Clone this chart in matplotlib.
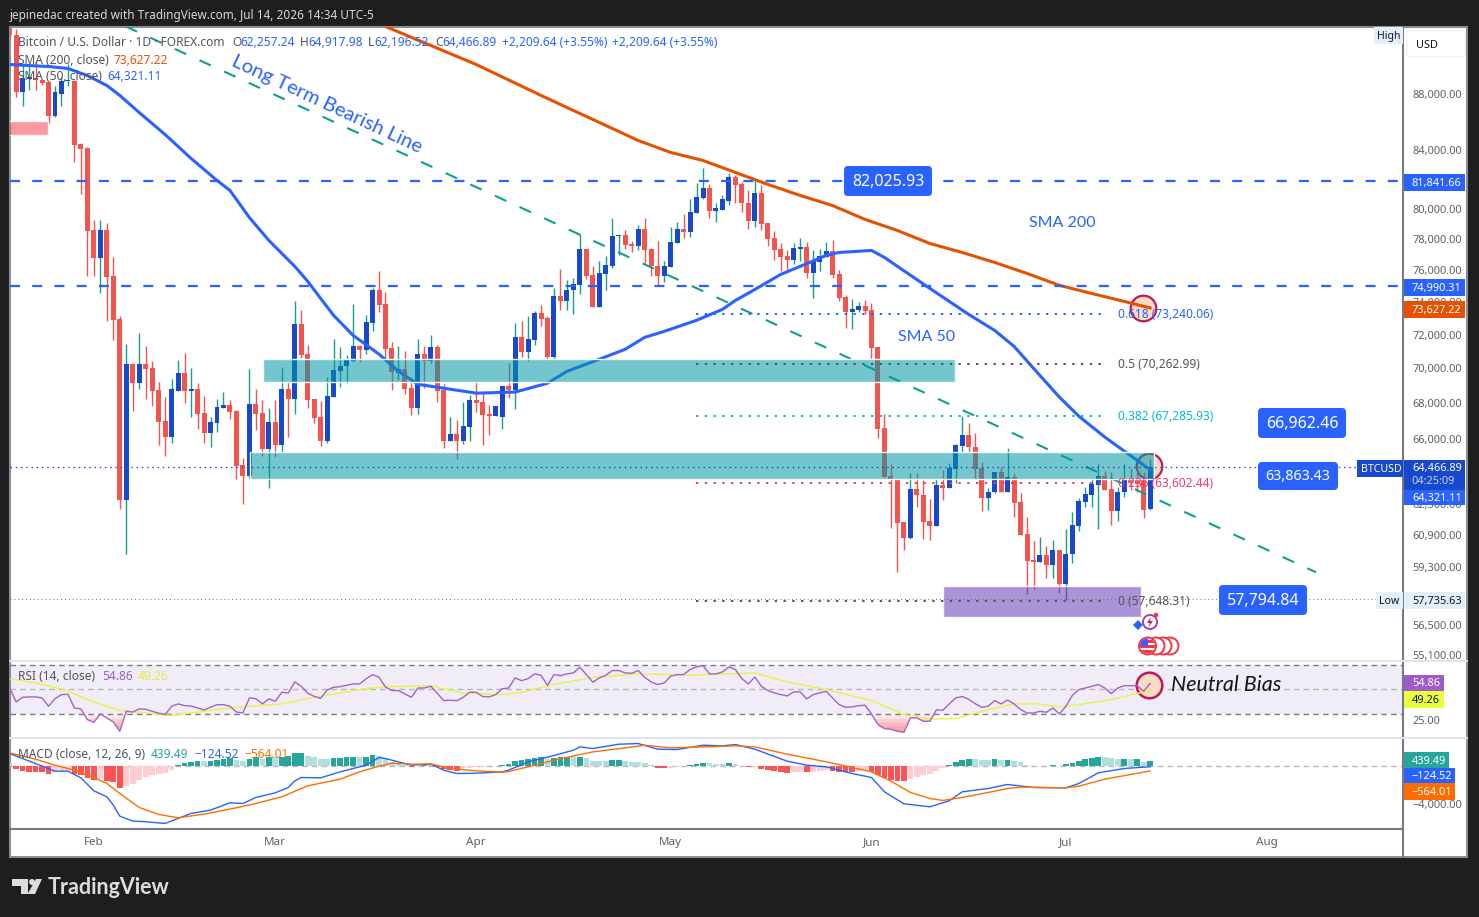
import numpy as np
import matplotlib
matplotlib.use("Agg")
import matplotlib.pyplot as plt
from matplotlib.colors import to_rgba
from matplotlib.patches import Rectangle, FancyBboxPatch, Circle, Polygon
from matplotlib.ticker import NullLocator

plt.rcParams["font.family"] = ["Noto Sans", "DejaVu Sans"]

# x axis is day of 2026, Jan 1 = 0. candles run daily from day 18 to day 194
first_day = 18
month_days = [31, 59, 90, 120, 151, 181, 212]
month_labels = ["Feb", "Mar", "Apr", "May", "Jun", "Jul", "Aug"]

opens = [93000, 92445, 88145, 89180, 89255, 89105, 88955, 86400, 88070, 89030, 89030, 84400, 84120, 78550, 76740, 78550,
         75590, 72930, 62710, 70245, 69140, 70245, 70010, 68740, 66985, 66095, 68715, 69715, 68685, 68800, 67430, 66315,
         66875, 67715, 67885, 67545, 64570, 63975, 67940, 67430, 65435, 66930, 65655, 68800, 68230, 72630, 70835, 68230,
         67210, 65875, 68340, 69830, 70125, 70420, 71305, 71070, 72690, 74770, 73845, 71185, 69715, 69950, 68855, 67715,
         70835, 70420, 71245, 68740, 65875, 66260, 65875, 66645, 68170, 68060, 67375, 67265, 67210, 68970, 68740, 71840,
         70950, 71660, 73300, 72990, 70660, 74335, 74030, 74710, 75030, 77315, 75655, 73660, 75720, 76230, 78160, 78225,
         77640, 77510, 78615, 77315, 76230, 75590, 76165, 77705, 78615, 78420, 79675, 80740, 81355, 79870, 79935, 80540,
         82105, 81630, 80405, 79145, 81015, 79010, 78030, 77315, 76865, 76610, 77315, 77445, 75780, 76485, 76800, 77185,
         75720, 74275, 73360, 73480, 73725, 73480, 71245, 66590, 63975, 63760, 61565, 60750, 63285, 62970, 61620, 61365,
         63495, 63335, 64355, 65600, 66205, 65545, 64410, 62815, 63125, 64190, 63125, 63920, 62605, 60955, 59640, 59540,
         59890, 59395, 60140, 58465, 59940, 61365, 62605, 62970, 63495, 63975, 63285, 62140, 63125, 63760, 63760, 63760,
         62257.24]
highs = [93060, 92980, 90305, 90155, 90530, 89105, 89030, 88660, 89330, 90305, 89100, 84470, 84200, 79210, 79210, 79010,
         76800, 73115, 71420, 70300, 72080, 71305, 70420, 69195, 68340, 69370, 70480, 70895, 70010, 69140, 68400, 67210,
         68230, 68625, 68170, 67600, 64950, 69950, 68800, 68170, 67715, 68170, 70065, 69195, 74030, 73480, 71365, 68230,
         68115, 69480, 71720, 71245, 70775, 73845, 71400, 73170, 74835, 75910, 74585, 71540, 71305, 71010, 69480, 71720,
         71305, 71960, 71365, 69080, 67210, 67040, 68055, 68455, 69195, 68570, 67880, 67490, 68970, 70300, 72690, 72810,
         73115, 73420, 73785, 73115, 74835, 76035, 75340, 75465, 78290, 77315, 76230, 76550, 76865, 79400, 78225, 78550,
         77835, 78880, 79400, 77380, 77835, 76550, 78810, 79080, 79605, 80675, 81695, 82730, 81625, 80405, 80945, 82385,
         82245, 81765, 81220, 81900, 81560, 79010, 78485, 77705, 77250, 77705, 78030, 77770, 77250, 77315, 77770, 77900,
         75970, 74400, 74150, 73965, 74090, 73905, 71245, 67375, 64625, 63760, 61565, 64140, 64140, 63760, 62760, 63815,
         64300, 64680, 65710, 67265, 66870, 66315, 64730, 63335, 64190, 64460, 65490, 64140, 63075, 61825, 60600, 60800,
         60340, 60650, 60140, 61210, 62085, 62815, 63390, 63870, 64625, 64245, 64190, 63390, 64625, 64410, 64410, 64190,
         64917.98]
lows = [92300, 87780, 87120, 88360, 88360, 88730, 85895, 86330, 87120, 88590, 83140, 80950, 75590, 75590, 74525, 72810,
        71660, 62240, 59940, 67545, 68800, 68230, 67830, 65655, 65055, 65765, 68700, 68000, 67210, 66535, 65765, 65545,
        66370, 67715, 67095, 63815, 62500, 63870, 66480, 65055, 63335, 65000, 65220, 66095, 67375, 70600, 67715, 66875,
        65600, 65765, 68340, 68910, 69140, 70360, 70360, 70835, 72200, 73360, 70480, 68740, 69310, 68515, 67320, 67375,
        68855, 70300, 68060, 65490, 65875, 64895, 65710, 65875, 67490, 65655, 66205, 67265, 66535, 68285, 67660, 70660,
        70420, 71365, 72505, 70480, 70540, 73480, 73480, 73235, 74465, 75400, 73660, 73660, 74770, 76100, 76930, 77315,
        77120, 77250, 76420, 75590, 74960, 75215, 76165, 77705, 78030, 78095, 79675, 80610, 79400, 79080, 79935, 80205,
        80340, 79740, 78615, 78810, 78550, 77510, 76610, 75910, 75970, 76355, 76550, 75465, 74215, 75910, 76800, 75465,
        74030, 72380, 72320, 73360, 73235, 70540, 66040, 63920, 61260, 59050, 60140, 60700, 62345, 60700, 60650, 61365,
        62710, 63335, 63600, 65270, 65270, 63815, 62140, 62190, 63075, 63125, 63125, 61825, 60905, 57975, 58220, 59540,
        58760, 58760, 58025, 57690, 59495, 61110, 62345, 62345, 61210, 63230, 61420, 61620, 62870, 63230, 63125, 61775,
        62196.52]
closes = [92445, 88145, 89255, 89330, 89105, 88880, 86400, 88145, 89030, 89070, 84330, 84050, 78485, 76740, 78550, 75530,
          72870, 62710, 70245, 69140, 70245, 69950, 68685, 66930, 66095, 68800, 69715, 68685, 68800, 67375, 66315, 66930,
          67770, 67885, 67490, 64515, 63975, 67940, 67375, 65435, 66930, 65655, 68800, 68230, 72630, 70775, 68170, 67150,
          65875, 68400, 69890, 70125, 70480, 71305, 71070, 72750, 74770, 73785, 71130, 69775, 69950, 68800, 67715, 70835,
          70420, 71245, 68685, 65875, 66260, 65875, 66700, 68170, 68000, 67320, 67265, 67825, 68970, 68740, 71840, 70950,
          71720, 73300, 72930, 70660, 74335, 74030, 74770, 75090, 77315, 75590, 73660, 75780, 76290, 78160, 78225, 77575,
          77510, 78615, 77250, 76230, 75590, 76230, 77770, 78615, 78420, 79740, 80810, 81355, 79870, 80005, 80610, 82105,
          81560, 80340, 79145, 81015, 78945, 77965, 77250, 76800, 76610, 77380, 77445, 75780, 76550, 76865, 77185, 75655,
          74215, 73360, 73540, 73725, 73420, 71185, 66535, 63920, 63760, 61515, 60750, 63285, 62970, 61565, 61365, 63495,
          63335, 64410, 65655, 66205, 65545, 64355, 62815, 63125, 64190, 63125, 63920, 62555, 60905, 59590, 59540, 59890,
          59395, 60140, 58465, 59940, 61415, 62660, 63020, 63550, 63975, 63230, 62140, 63125, 63760, 63600, 63550, 62190,
          64466.89]

# moving averages, read at the days where the curves bend
sma50_days = [18, 21, 24, 27, 30, 33, 35, 38, 42, 46, 50, 52, 55, 58, 62, 64, 66, 68, 71, 75, 78, 81, 85, 90, 96, 101,
              104, 109, 113, 116, 119, 124, 128, 130, 133, 137, 140, 144, 146, 151, 153, 155, 160, 163, 166, 170, 173,
              176, 180, 183, 187, 190, 194]
sma50_vals = [90230, 90150, 90080, 89930, 89400, 88660, 87930, 86680, 85100, 83420, 81900, 81220, 79400, 77900, 76230,
              75280, 74210, 73170, 71960, 70840, 69830, 69080, 68850, 68570, 68630, 69140, 69830, 70540, 71130, 71840,
              72200, 72870, 73540, 74090, 74770, 75720, 76230, 76930, 77120, 77250, 76800, 76230, 74840, 74030, 73230,
              72260, 71300, 70010, 68340, 67260, 66100, 65330, 64321.11]
sma200_days = [76, 90, 100, 105, 110, 115, 120, 125, 130, 135, 140, 145, 150, 155, 160, 165, 170, 175, 180, 185, 190, 194]
sma200_vals = [93140, 90230, 87930, 86830, 85750, 84680, 83840, 83280, 82450, 81630, 80880, 80200, 79280, 78550, 77700,
               77120, 76480, 75780, 75030, 74520, 74030, 73627.22]

# drawn levels and lines on the price pane
hline_levels = [81841.66, 74990.31]
last_price = 64466.89
low_price = 57735.63
fib_labels = ["0.618 (73,240.06)", "0.5 (70,262.99)", "0.382 (67,285.93)", "0.236 (63,602.44)", "0 (57,648.31)"]
fib_levels = [73240.06, 70262.99, 67285.93, 63602.44, 57648.31]
fib_colors = ["#2962ff", "#555555", "#00bcd4", "#f23a6f", "#555555"]
fib_days = [123.9, 187.3]
trend_days = [35.9, 219.6]
trend_prices = [93150, 59040]
zone_days = [[57.1, 163.9], [55.1, 194.6]]
zone_prices = [[69195, 70540], [63815, 65270]]
purple_days = [162.0, 192.6]
purple_prices = [56880, 58360]
pink_days = [17.5, 23.9]
pink_prices = [85035, 86040]

price_ticks = [88000, 84000, 80000, 78000, 76000, 74000, 72000, 70000, 68000, 66000, 62500, 60900, 59300, 57900, 56500, 55100]
price_tick_labels = ["88,000.00", "84,000.00", "80,000.00", "78,000.00", "76,000.00", "74,000.00", "72,000.00",
                     "70,000.00", "68,000.00", "66,000.00", "62,500.00", "60,900.00", "59,300.00", "57,900.00",
                     "56,500.00", "55,100.00"]

rsi_vals = [51.2, 39.8, 43.6, 43.9, 43.9, 43.1, 36.3, 42.5, 45.8, 46.1, 34.9, 34.1, 25.4, 23.2, 30.0, 26.8, 23.5, 15.9,
            32.2, 31.6, 34.1, 33.8, 32.2, 30.6, 29.5, 36.3, 38.2, 36.8, 36.5, 34.9, 33.3, 35.5, 37.6, 37.6, 36.3, 31.6,
            30.8, 43.1, 42.5, 38.2, 42.3, 40.4, 47.7, 47.2, 56.1, 52.6, 46.9, 44.4, 42.8, 49.6, 51.8, 52.3, 53.4, 54.5,
            54.5, 58.6, 62.1, 59.9, 52.0, 49.1, 49.1, 46.3, 43.6, 51.2, 51.2, 52.6, 46.9, 40.9, 41.2, 40.9, 43.6, 47.7,
            47.7, 44.2, 43.9, 45.8, 50.5, 51.2, 59.4, 57.2, 58.8, 62.7, 61.6, 53.4, 62.1, 61.3, 62.7, 63.5, 68.1, 62.1,
            55.9, 59.4, 61.6, 65.4, 65.4, 63.5, 63.2, 65.4, 59.9, 56.1, 54.0, 55.3, 60.8, 62.1, 62.1, 66.2, 68.4, 69.5,
            62.7, 62.7, 64.3, 68.4, 66.2, 58.8, 54.5, 60.2, 52.6, 49.1, 47.2, 45.8, 44.7, 48.0, 48.0, 42.3, 45.8, 47.2,
            48.5, 43.1, 37.6, 35.5, 35.7, 36.8, 37.1, 30.0, 21.3, 18.0, 17.5, 15.9, 15.0, 26.8, 26.8, 24.0, 24.0, 33.3,
            33.0, 38.2, 43.1, 44.2, 42.0, 38.4, 35.5, 36.3, 40.9, 38.2, 41.4, 38.2, 33.6, 30.8, 30.8, 32.2, 31.4, 34.9,
            30.0, 36.3, 45.2, 49.9, 51.2, 52.6, 54.0, 51.2, 46.6, 51.2, 53.1, 53.1, 53.1, 48.5, 54.86]
rsi_ma_days = [18, 22, 26, 31, 35, 40, 43, 47, 52, 55, 60, 64, 68, 72, 76, 83, 88, 94, 97, 102, 108, 115, 123, 133, 138,
               144, 149, 151, 156, 160, 164, 169, 173, 177, 180, 183, 188, 194]
rsi_ma_vals = [58.8, 55.3, 50.4, 39.8, 33.0, 30.3, 28.7, 31.6, 34.9, 36.3, 38.2, 42.5, 46.3, 49.9, 52.3, 52.9, 47.2, 45.8,
               47.7, 54.0, 59.9, 62.7, 61.6, 63.5, 56.1, 49.9, 43.6, 40.9, 29.5, 25.9, 26.2, 33.6, 38.2, 38.2, 35.5,
               37.6, 41.7, 49.26]

macd_hist = [240, -380, -550, -690, -690, -690, -860, -690, -620, -590, -860, -930, -1270, -1480, -1440, -1650, -1720,
             -2340, -2130, -1890, -1480, -1140, -1000, -890, -760, -480, 20, 280, 380, 480, 450, 480, 550, 690, 760, 550,
             450, 690, 830, 650, 830, 830, 930, 1030, 1270, 1310, 1030, 890, 690, 650, 760, 790, 830, 860, 860, 930,
             1070, 1030, 690, 340, 210, 100, -170, -30, 100, 30, -170, -340, -480, -550, -280, -210, -170, -140, -100,
             -70, 30, 140, 450, 550, 650, 760, 830, 650, 760, 830, 860, 830, 930, 790, 480, 480, 480, 520, 580, 480, 380,
             380, 280, 30, -280, -280, -240, -140, -100, 30, 170, 280, 210, 170, 170, 210, 140, -30, -170, -140, -380,
             -480, -580, -690, -790, -690, -650, -650, -620, -580, -480, -580, -690, -690, -720, -580, -550, -690, -930,
             -1310, -1480, -1620, -1620, -1410, -1140, -1030, -890, -580, -280, 30, 340, 580, 690, 650, 580, 580, 650,
             580, 620, 450, 340, 100, -30, -30, -30, 30, -30, 140, 280, 450, 650, 790, 860, 860, 790, 690, 720, 650, 690,
             350, 439.49]
macd_days = [18, 22, 25, 27, 29, 31, 33, 34, 35, 37, 39, 42, 44, 46, 49, 52, 54, 56, 59, 61, 62, 63, 66, 69, 73, 75, 76,
             80, 83, 85, 87, 90, 94, 95, 98, 101, 105, 106, 108, 112, 115, 118, 121, 125, 128, 130, 133, 138, 141, 144,
             148, 151, 153, 156, 160, 163, 165, 169, 172, 176, 181, 183, 186, 190, 194]
macd_vals = [1238, 206, -585, -585, -1273, -2614, -3234, -4094, -5229, -5745, -5814, -5986, -5470, -4954, -4610, -3853,
             -3922, -3302, -2821, -2270, -1582, -1238, -1273, -654, 34, 826, 722, 34, 138, -482, -826, -791, -654, -482,
             378, 860, 1582, 1926, 1754, 2202, 2270, 1686, 1651, 2098, 2030, 2167, 1686, 447, 34, -138, -826, -1238,
             -2718, -3956, -4266, -3646, -2718, -2374, -1961, -2270, -2305, -1858, -757, -310, -124.52]
signal_days = [18, 22, 25, 28, 31, 33, 35, 38, 41, 44, 48, 53, 56, 60, 64, 69, 72, 75, 77, 80, 83, 86, 90, 94, 95, 98,
               102, 108, 113, 116, 120, 125, 130, 133, 138, 142, 146, 151, 154, 157, 160, 162, 165, 169, 172, 174, 181,
               183, 187, 194]
signal_vals = [1307, 654, 34, -482, -1238, -1858, -2890, -4334, -5057, -5401, -5022, -4369, -3922, -3234, -2098, -1410,
               -654, -69, 241, 138, 172, -310, -550, -688, -619, -138, 550, 1410, 1823, 2098, 1823, 1926, 2030, 1926,
               1170, 654, 103, -654, -1617, -2786, -3406, -3612, -3302, -2786, -2374, -2236, -2305, -2133, -1410, -564.01]

W, H = 1479, 917
BG = "#1e1e1e"
BLUE = "#2962ff"
DARK_BLUE = "#1848cc"
RED = "#f25450"
ORANGE = "#e65100"
TEXT = "#50535e"


def px_rect(x0, y0, x1, y1):
    # axes rectangle from pixel edges, y measured from the top
    return [x0 / W, 1 - y1 / H, (x1 - x0) / W, (y1 - y0) / H]


fig = plt.figure(figsize=(W / 100, H / 100), dpi=100, facecolor=BG)
fig.add_artist(Rectangle((10 / W, 1 - 857 / H), 1457 / W, 830 / H, transform=fig.transFigure,
                         facecolor="white", edgecolor="#8a8d96", linewidth=1.5, zorder=-1))

ax = fig.add_axes(px_rect(10, 27, 1403, 661))
ax_rsi = fig.add_axes(px_rect(10, 662, 1403, 738))
ax_macd = fig.add_axes(px_rect(10, 739, 1403, 829))

days = np.arange(first_day, first_day + len(closes))
o = np.array(opens, dtype=float)
c = np.array(closes, dtype=float)
up = c >= o

# price pane: highlight circles sit under everything else
ax.scatter([192.9, 193.8], [73627, 64500], s=340, facecolor="#f8dcc4", edgecolor="#c2185b", linewidth=1.6, zorder=1.5)
ax.vlines(days, lows, highs, colors=np.where(up, "#14a08c", RED), linewidth=1, zorder=2)
ax.bar(days, np.abs(c - o), bottom=np.minimum(o, c), width=0.77, color=np.where(up, DARK_BLUE, RED), linewidth=0, zorder=2.2)
ax.plot(sma200_days, sma200_vals, color=ORANGE, linewidth=2.2, solid_joinstyle="round", zorder=3)
ax.plot(sma50_days, sma50_vals, color=BLUE, linewidth=2.2, solid_joinstyle="round", zorder=3)
ax.plot(trend_days, trend_prices, color="#0e9f8e", linewidth=1.5, dashes=(6, 7), zorder=3)

for zd, zp in zip(zone_days, zone_prices):
    ax.add_patch(Rectangle((zd[0], zp[0]), zd[1] - zd[0], zp[1] - zp[0], facecolor=to_rgba("#0097a7", 0.55),
                           edgecolor="#f3f6f9", linewidth=1, zorder=4))
ax.add_patch(Rectangle((purple_days[0], purple_prices[0]), purple_days[1] - purple_days[0],
                       purple_prices[1] - purple_prices[0], facecolor=to_rgba("#673ab7", 0.55),
                       edgecolor="#f3f6f9", linewidth=1, zorder=4))
ax.add_patch(Rectangle((pink_days[0], pink_prices[0]), pink_days[1] - pink_days[0], pink_prices[1] - pink_prices[0],
                       facecolor=to_rgba("#f23645", 0.5), edgecolor="#f5f5f5", linewidth=1, zorder=4))

for level in hline_levels:
    ax.axhline(level, color=BLUE, linewidth=1.6, dashes=(4.5, 5.5), zorder=5)
ax.axhline(last_price, color=DARK_BLUE, linewidth=0.9, dashes=(1.2, 3), zorder=5)
ax.axhline(low_price, color="#6a6d78", linewidth=0.7, dashes=(1, 3), zorder=5)
for level, color in zip(fib_levels, fib_colors):
    ax.plot(fib_days, [level, level], color=color, linewidth=1.4, dashes=(1.2, 3.3), zorder=5)

ax.set_yscale("log")
ax.set_xlim(18.056, 233.02)
ax.set_ylim(54823, 93101)
ax.yaxis.tick_right()
ax.set_yticks(price_ticks)
ax.set_yticklabels(price_tick_labels)
ax.yaxis.set_minor_locator(NullLocator())
ax.set_xticks([])

# rsi pane
ax_rsi.axhspan(30, 70, color="#7e57c2", alpha=0.11, linewidth=0, zorder=1)
ax_rsi.axhline(70, color="#787b86", linewidth=1, dashes=(4, 3), zorder=2)
ax_rsi.axhline(50, color="#b6b8c0", linewidth=1, dashes=(4, 3), zorder=2)
ax_rsi.axhline(30, color="#787b86", linewidth=1, dashes=(4, 3), zorder=2)
ax_rsi.scatter([193.8], [53.7], s=340, facecolor="#f8dcc4", edgecolor="#c2185b", linewidth=1.8, zorder=2.5)
rsi_days = np.arange(first_day, first_day + len(rsi_vals))
rsi_arr = np.array(rsi_vals)
for level in [29, 26, 23, 20, 17]:
    ax_rsi.fill_between(rsi_days, rsi_arr, level, where=rsi_arr < level, interpolate=True, color="#f23645",
                        alpha=0.13, linewidth=0, zorder=2.6)
ax_rsi.plot(rsi_ma_days, rsi_ma_vals, color="#e9f53c", linewidth=1, zorder=3)
ax_rsi.plot(rsi_days, rsi_vals, color="#a463c9", linewidth=1, zorder=3.2)
ax_rsi.set_xlim(ax.get_xlim())
ax_rsi.set_ylim(10.4, 72.4)
ax_rsi.yaxis.tick_right()
ax_rsi.set_yticks([25])
ax_rsi.set_yticklabels(["25.00"])
ax_rsi.set_xticks([])

# macd pane
hist_days = np.arange(first_day, first_day + len(macd_hist))
hist_colors = []
prev = macd_hist[0]
for v in macd_hist:
    if v >= 0:
        hist_colors.append("#26a69a" if v > prev else "#b2dfdb")
    else:
        hist_colors.append("#ffcdd2" if v > prev else "#ff5252")
    prev = v
ax_macd.axhline(0, color="#b6b8c0", linewidth=1, dashes=(4, 3), zorder=1)
ax_macd.bar(hist_days, macd_hist, width=0.88, color=hist_colors, linewidth=0, zorder=2)
ax_macd.plot(macd_days, macd_vals, color=BLUE, linewidth=1, zorder=3)
ax_macd.plot(signal_days, signal_vals, color="#ff6d00", linewidth=1, zorder=3)
ax_macd.set_xlim(ax.get_xlim())
ax_macd.set_ylim(-6560, 2740)
ax_macd.yaxis.tick_right()
ax_macd.set_yticks([-4000])
ax_macd.set_yticklabels(["\u22124,000.00"])
ax_macd.set_xticks(month_days)
ax_macd.set_xticklabels(month_labels)

for a in [ax, ax_rsi, ax_macd]:
    a.patch.set_alpha(0)
    for side in ["top", "left", "bottom"]:
        a.spines[side].set_visible(False)
    a.spines["right"].set_color("#787b86")
    a.spines["right"].set_linewidth(1.5)
    a.tick_params(axis="both", length=0, labelsize=7.9, labelcolor="#5d606b", pad=6.5)
ax_macd.spines["bottom"].set_visible(True)
ax_macd.spines["bottom"].set_color("#787b86")
ax_macd.spines["bottom"].set_linewidth(1.5)
ax_macd.tick_params(axis="x", pad=6, labelsize=8.4)

# overlay in pixel coordinates for badges, texts and the logo
ov = fig.add_axes([0, 0, 1, 1], zorder=10)
ov.set_xlim(0, W)
ov.set_ylim(H, 0)
ov.axis("off")
ov.patch.set_alpha(0)

ov.plot([10, 1467], [661, 661], color="#e0e3eb", linewidth=1.4, zorder=0)
ov.plot([10, 1467], [738, 738], color="#e0e3eb", linewidth=1.4, zorder=0)
ov.plot([1403, 1403], [829, 857], color="#787b86", linewidth=1.5, zorder=0)


def label(x, y, s, color=TEXT, size=8.6, ha="left", **kw):
    return ov.text(x, y + 1, s, color=color, fontsize=size, ha=ha, va="center", **kw)


def box(x0, y0, x1, y1, s, size=11.5):
    ov.add_patch(FancyBboxPatch((x0 + 4, y0 + 4), x1 - x0 - 8, y1 - y0 - 8, boxstyle="round,pad=4,rounding_size=4",
                                facecolor=BLUE, edgecolor="none"))
    label((x0 + x1) / 2, (y0 + y1) / 2, s, "white", size, ha="center")


def tag(y0, y1, s, bg, fg="white", x1=1465, x0=1404, tx=1412):
    ov.add_patch(Rectangle((x0, y0), x1 - x0, y1 - y0, facecolor=bg, edgecolor="none", zorder=3))
    label(tx, (y0 + y1) / 2, s, fg, 7.9, zorder=4)


label(10, 15, "jepinedac created with TradingView.com, Jul 14, 2026 14:34 UTC-5", "#d6d6d6", 8.5)

label(18, 42, "Bitcoin / U.S. Dollar \u00b7 1D \u00b7 FOREX.com")
for x, s in [(232, "O"), (300, "H"), (368, "L"), (435, "C")]:
    label(x, 42, s)
for x, s in [(240, "62,257.24"), (308, "64,917.98"), (374, "62,196.52"), (442, "64,466.89"),
             (502, "+2,209.64 (+3.55%)"), (612, "+2,209.64 (+3.55%)")]:
    label(x, 42, s, BLUE)
label(18, 59, "SMA (200, close)")
label(113, 59, "73,627.22", ORANGE)
label(18, 76, "SMA (50, close)")
label(107, 76, "64,321.11", BLUE)

label(327, 103, "Long Term Bearish Line", BLUE, 14.5, ha="center", rotation=-25, rotation_mode="anchor", family="Lato")
label(1062, 222, "SMA 200", BLUE, 11.5, ha="center", family="Lato")
label(927, 336, "SMA 50", BLUE, 11.5, ha="center", family="Lato")

for s, level, color in zip(fib_labels, fib_levels, fib_colors):
    y = 94 + 1198 * np.log(88000 / level)
    label(1118, y - 0.5, s, color, 8.6)

box(844, 166, 932, 196, "82,025.93")
box(1258, 408, 1346, 438, "66,962.46")
box(1258, 462, 1338, 490, "63,863.43", 10.3)
box(1219, 585, 1307, 615, "57,794.84")

# price scale column
ov.add_patch(Rectangle((1374, 27), 29, 17, facecolor="#e3effd", edgecolor="none"))
label(1388.5, 35, "High", "#131722", 7.6, ha="center")
ov.add_patch(FancyBboxPatch((1410, 34), 52, 20, boxstyle="round,pad=3,rounding_size=3", facecolor="white",
                            edgecolor="#f0f3fa", linewidth=1))
label(1416, 44, "USD", "#131722", 7.9)
tag(174, 191, "81,841.66", BLUE)
tag(279, 296, "74,990.31", BLUE)
tag(301, 318, "73,627.22", ORANGE)
tag(490, 505, "64,321.11", BLUE)
ov.add_patch(Rectangle((1357, 460), 46, 17, facecolor=DARK_BLUE, edgecolor="none", zorder=3))
label(1361, 468, "BTCUSD", "white", 7.6, zorder=4)
ov.add_patch(Rectangle((1404, 460), 61, 30, facecolor=DARK_BLUE, edgecolor="none", zorder=3))
label(1412, 467, "64,466.89", "white", 7.9, zorder=4)
label(1412, 480, "04:25:09", "#c3d0f5", 7.9, zorder=4)
ov.add_patch(Rectangle((1376, 592), 27, 17, facecolor="#e3effd", edgecolor="none"))
label(1389.5, 600, "Low", "#131722", 7.6, ha="center")
tag(592, 609, "57,735.63", "#e3effd", "#131722")

tag(675, 691, "54.86", "#a05cc6", x1=1444)
tag(691, 708, "49.26", "#e9ff3b", "#131722", x1=1444)
tag(752, 768, "439.49", "#26a69a", x1=1449)
tag(768, 783, "\u2212124.52", BLUE, x1=1455)
tag(783, 800, "\u2212564.01", "#ff6d00", x1=1455)

# pane legends
label(18, 676, "RSI (14, close)")
label(102, 676, "54.86", "#a05cc6")
label(138, 676, "49.26", "#e3ef3a")
label(18, 754, "MACD (close, 12, 26, 9)")
label(151, 754, "439.49", "#26a69a")
label(194, 754, "\u2212124.52", BLUE)
label(244, 754, "\u2212564.01", "#ff6d00")
label(1171, 684, "Neutral Bias", "#131722", 15.5, family="Lato", style="italic")

# event icons under the last candles
ov.add_patch(Circle((1150, 622), 7, facecolor="white", edgecolor="#a3379f", linewidth=1.3))
ov.add_patch(Polygon([(1151, 617), (1147, 623), (1150, 623), (1148, 628), (1153, 621), (1150, 621)], facecolor="#c2185b"))
ov.add_patch(Polygon([(1138, 620), (1143, 625), (1138, 630), (1133, 625)], facecolor=BLUE))
ov.add_patch(Circle((1156, 615), 2.3, facecolor="#f23645"))
for x in [1170, 1163, 1156, 1147.5]:
    ov.add_patch(Circle((x, 646), 8.5, facecolor="white", edgecolor="#f23645", linewidth=1.4))
flag = Circle((1147.5, 646), 7.5, transform=ov.transData)
for y in [640, 645, 650]:
    r = Rectangle((1139, y), 17, 2.5, facecolor="#f23645")
    ov.add_patch(r)
    r.set_clip_path(flag)
canton = Rectangle((1140, 638), 8, 7.5, facecolor="#3d5afe")
ov.add_patch(canton)
canton.set_clip_path(flag)

# logo
ov.add_patch(Polygon([(12, 879), (28, 879), (28, 894), (21, 894), (21, 886), (12, 886)], facecolor="#dcdcdc"))
ov.add_patch(Circle((32, 882), 3, facecolor="#dcdcdc"))
ov.add_patch(Polygon([(36, 879), (42, 879), (35, 894), (27.5, 894)], facecolor="#dcdcdc"))
label(48, 886.5, "TradingView", "#dcdcdc", 15.5, family="Lato", weight="bold")

fig.savefig("out.png", dpi=100, facecolor=BG)
